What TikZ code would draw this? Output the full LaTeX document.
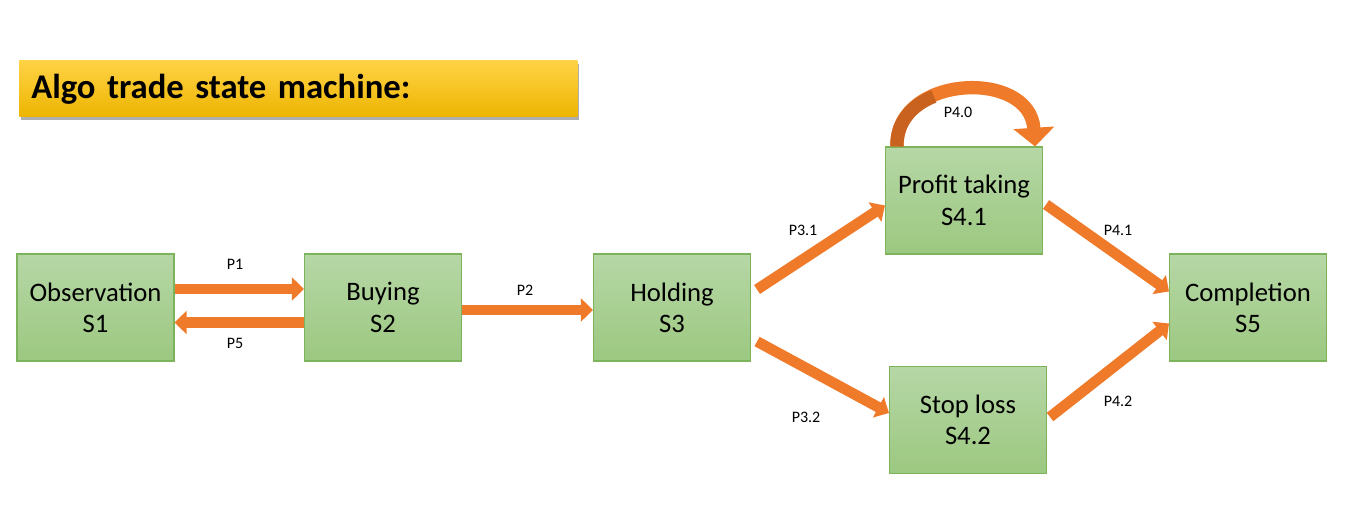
\documentclass[tikz,border=0pt]{standalone}
\usepackage{fontspec}
\setmainfont{Carlito}
\usepackage{xcolor}
\usepackage{tikz}
\usetikzlibrary{positioning}
\usetikzlibrary{calc,arrows.meta,shadows}
\pgfdeclarelayer{nodelayer}
\pgfdeclarelayer{edgelayer}
\pgfsetlayers{nodelayer,edgelayer,main}
\definecolor{flowcol}{HTML}{EF7B2A}
\definecolor{flowdark}{HTML}{C8621E}
\definecolor{statetop}{HTML}{B6D7A6}
\definecolor{statebot}{HTML}{9CC880}
\definecolor{stateline}{HTML}{7DB35A}
\definecolor{titletop}{HTML}{FFD245}
\definecolor{titlebot}{HTML}{EDB500}
\tikzset{
    state/.style = {draw=stateline, line width=0.8pt, top color=statetop, bottom color=statebot,
        minimum width=117.75pt, minimum height=80.25pt, inner sep=0pt, align=center,
        font=\fontsize{20}{23.5}\selectfont},
    plabel/.style = {inner sep=0pt, font=\fontsize{12}{14}\selectfont},
    banner/.style = {top color=titletop, bottom color=titlebot, minimum height=42pt,
        inner xsep=9pt, inner ysep=0pt, text width=400.5pt, align=left,
        font=\bfseries\fontsize{26}{30}\selectfont,
        drop shadow={shadow xshift=1.5pt, shadow yshift=-2.5pt, opacity=0.45, fill=black!70}},
    flow/.style = {draw=flowcol, line width=8pt, -{Triangle[length=9pt, width=17pt]}},
    selfflow/.style = {draw=flowcol, line width=10pt, -{Triangle[length=14pt, width=30pt]}}
}

\begin{document}
\begin{tikzpicture}[x=0.75pt, y=-0.75pt]
    \useasboundingbox (0, 0) rectangle (1355, 516);

    \begin{pgfonlayer}{nodelayer}
        \node [style=banner, anchor=west] (0) at (19, 89) {Algo trade state machine:};
        \node [style=state] (1) at (95.5, 307.5) {Observation\\S1};
        \node [style=state] (2) at (383, 307.5) {Buying\\S2};
        \node [style=state] (3) at (672, 307.5) {Holding\\S3};
        \node [style=state] (4) at (964, 200.5) {Profit taking\\S4.1};
        \node [style=state] (5) at (968, 420) {Stop loss\\S4.2};
        \node [style=state] (6) at (1248, 307.5) {Completion\\S5};
        \node [style=plabel] (7) at (235, 264) {P1};
        \node [style=plabel] (8) at (235, 343) {P5};
        \node [style=plabel] (9) at (525, 290) {P2};
        \node [style=plabel] (10) at (803, 230) {P3.1};
        \node [style=plabel] (11) at (806, 417) {P3.2};
        \node [style=plabel] (12) at (958, 112) {P4.0};
        \node [style=plabel] (13) at (1118, 230) {P4.1};
        \node [style=plabel] (14) at (1118, 401) {P4.2};
        \coordinate (15) at (933.9, 96.4);
    \end{pgfonlayer}
    \begin{pgfonlayer}{edgelayer}
        \draw [style=flow] ($(1.east)+(0,-18.5)$) to ($(2.west)+(0,-18.5)$);
        \draw [style=flow] ($(2.west)+(0,15)$) to ($(1.east)+(0,15)$);
        \draw [style=flow] ($(2.east)+(0,2.5)$) to ($(3.west)+(0,2.5)$);
        \draw [style=flow] ($(3.east)+(6,-18)$) to ($(4.west)+(0,5)$);
        \draw [style=flow] ($(3.east)+(6,34)$) to ($(5.west)+(0,-7)$);
        \draw [style=flow] ($(4.east)+(3,4)$) to ($(6.west)+(0,-16)$);
        \draw [style=flow] ($(5.east)+(3,-3)$) to ($(6.west)+(0,16)$);
        % self loop on profit taking, darker on its rising side
        \draw [style=selfflow] ($(4.north west)+(12,0)$) .. controls +(-2,-72) and +(-5,-78) .. ($(4.north east)+(-8,0)$);
        \draw [draw=flowdark, line width=10pt] ($(4.north west)+(12,0)$) .. controls (896.3, 121.8) and (912.5, 104.7) .. (15);
    \end{pgfonlayer}
\end{tikzpicture}
\end{document}
